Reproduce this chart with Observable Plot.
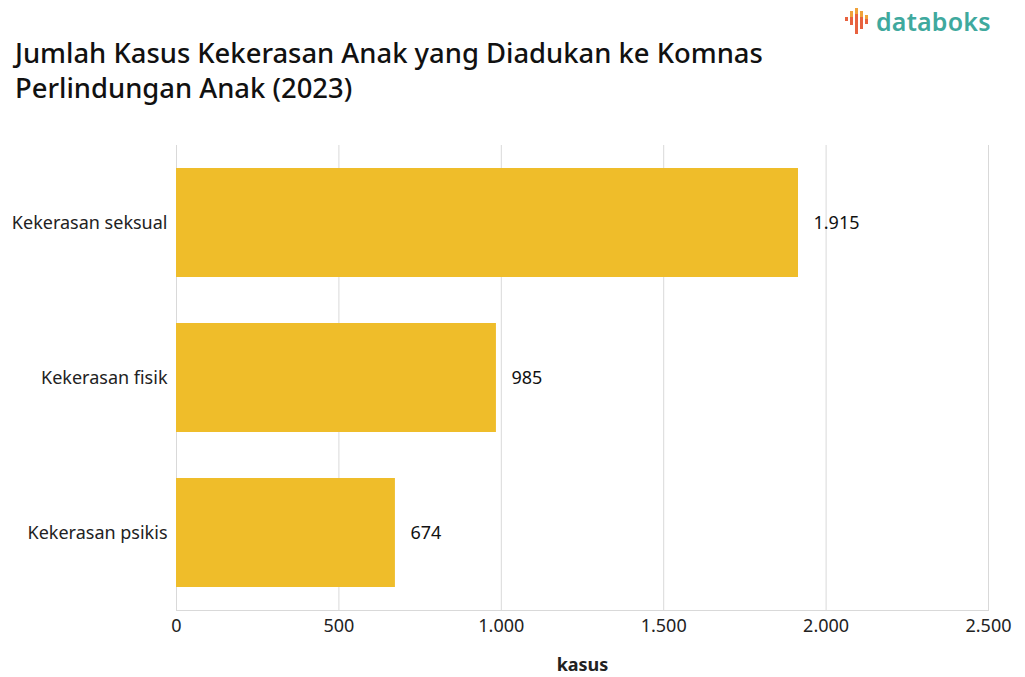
<!DOCTYPE html>
<html>
<head>
<meta charset="utf-8">
<script src="https://cdn.jsdelivr.net/npm/d3@7"></script>
<script src="https://cdn.jsdelivr.net/npm/@observablehq/plot@0.6"></script>
<style>
  html, body { margin: 0; padding: 0; background: #fff; }
  body { width: 1025px; height: 677px; overflow: hidden; position: relative; font-family: "Noto Sans", "Open Sans", sans-serif; }
  #title { position: absolute; left: 15px; top: 35px; font-size: 27.4px; line-height: 35px; color: #111; font-weight: 500; }
  #logo { position: absolute; left: 844px; top: 4px; display: flex; align-items: center; }
  #logo span { font-size: 25px; font-weight: 600; color: #3fa99e; margin-left: 4px; letter-spacing: 0.2px; }
  #chart { position: absolute; left: 0; top: 120px; }
</style>
</head>
<body>
<div id="title">Jumlah Kasus Kekerasan Anak yang Diadukan ke Komnas<br>Perlindungan Anak (2023)</div>
<div id="logo">
  <svg width="28" height="30" viewBox="0 0 28 30">
    <rect x="1" y="11" width="3" height="4" fill="#e8623f"/>
    <rect x="6" y="5" width="3" height="6" fill="#f0a23a"/>
    <rect x="6" y="11" width="3" height="8" fill="#e8623f"/>
    <rect x="11" y="2" width="3" height="6" fill="#f0a23a"/>
    <rect x="11" y="8" width="3" height="20" fill="#e8623f"/>
    <rect x="16" y="5" width="3" height="6" fill="#f0a23a"/>
    <rect x="16" y="11" width="3" height="12" fill="#e8623f"/>
    <rect x="21" y="9" width="3" height="4" fill="#f0a23a"/>
    <rect x="21" y="13" width="3" height="5" fill="#e8623f"/>
  </svg>
  <span>databoks</span>
</div>
<div id="chart"></div>
<script>
const categories = ["Kekerasan seksual", "Kekerasan fisik", "Kekerasan psikis"];
const values = [1915, 985, 674];
const xTicks = [0, 500, 1000, 1500, 2000, 2500];
const xLabel = "kasus";

const data = categories.map((c, i) => ({category: c, value: values[i]}));
const fmt = d => d3.format(",")(d).replace(/,/g, ".");

const chart = Plot.plot({
  width: 1025,
  height: 557,
  marginTop: 25,
  marginBottom: 67,
  marginLeft: 176,
  marginRight: 37,
  style: { fontFamily: "'Noto Sans', 'Open Sans', sans-serif", fontSize: "18px", color: "#222", background: "#fff" },
  x: { domain: [0, 2500], ticks: xTicks, tickFormat: fmt, label: xLabel },
  y: { domain: categories, paddingInner: 0.3, paddingOuter: 0.15, label: null },
  marks: [
    Plot.gridX(xTicks, { stroke: "#d9d9d9", strokeOpacity: 1, strokeWidth: 1 }),
    Plot.frame({ anchor: "bottom", stroke: "#d9d9d9", strokeOpacity: 1 }),
    Plot.axisX({ ticks: xTicks, tickFormat: fmt, tickSize: 0, tickPadding: 9, fontSize: 18, label: xLabel, labelAnchor: "center", labelArrow: "none", labelOffset: 60 }),
    Plot.axisY({ tickSize: 0, tickPadding: 9, fontSize: 18 }),
    Plot.barX(data, { x: "value", y: "category", fill: "#efbd2a" }),
    Plot.text(data, { x: "value", y: "category", text: d => fmt(d.value), textAnchor: "start", dx: 15, fontSize: 18, fill: "#111" })
  ]
});
chart.querySelectorAll("g[aria-label='x-axis label'] text, g[aria-label='x-axis label']").forEach(e => { e.setAttribute("font-weight", "bold"); });
document.getElementById("chart").appendChild(chart);
</script>
</body>
</html>
